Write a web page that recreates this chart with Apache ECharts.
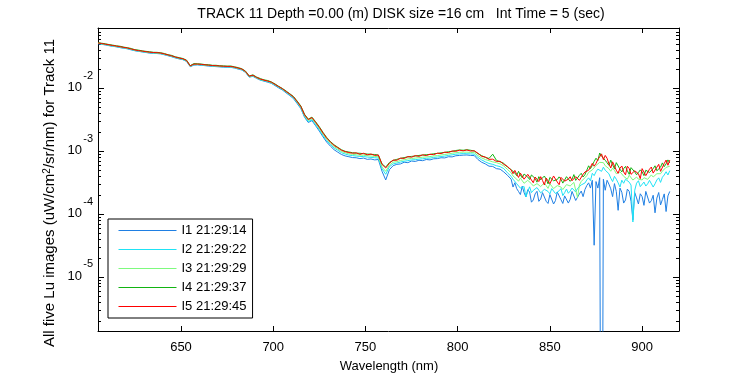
<!DOCTYPE html>
<html>
<head>
<meta charset="utf-8">
<title>Track 11 Lu</title>
<script src="https://cdn.jsdelivr.net/npm/echarts@6/dist/echarts.min.js"></script>
<style>
    html, body { margin: 0; padding: 0; background: #fff; }
    #luBox { width: 750px; height: 375px; }
</style>
</head>
<body>
<div id="luBox"></div>
<script>
//Lu spectra, track 11, five images

var wavelength = [
    605, 607, 609, 611, 613, 615, 617, 619, 621, 623,
    625, 627, 629, 631, 633, 635, 637, 639, 641, 643,
    645, 647, 649, 651, 653, 655, 657, 659, 661, 663,
    665, 667, 669, 671, 673, 675, 677, 679, 681, 683,
    685, 687, 689, 691, 693, 695, 697, 699, 701, 703,
    705, 707, 709, 711, 713, 715, 717, 719, 721, 723,
    725, 727, 729, 731, 733, 735, 737, 739, 741, 743,
    745, 747, 749, 751, 753, 755, 757, 759, 761, 763,
    765, 767, 769, 771, 773, 775, 777, 779, 781, 783,
    785, 787, 789, 791, 793, 795, 797, 799, 801, 803,
    805, 807, 809, 811, 813, 815, 817, 819, 821, 823,
    825, 827, 829, 830, 831, 832, 833, 834, 835, 836,
    837, 838, 839, 840, 841, 842, 843, 844, 845, 846,
    847, 848, 849, 850, 851, 852, 853, 854, 855, 856,
    857, 858, 859, 860, 861, 862, 863, 864, 865, 866,
    867, 868, 869, 870, 871, 872, 873, 874, 875, 876,
    877, 878, 879, 880, 881, 882, 883, 884, 885, 886,
    887, 888, 889, 890, 891, 892, 893, 894, 895, 896,
    897, 898, 899, 900, 901, 902, 903, 904, 905, 906,
    907, 908, 909, 910, 911, 912, 913, 914, 915
];

// I1 21:29:14
var lu1 = [
    5.15e-2, 5.05e-2, 4.94e-2, 4.80e-2, 4.70e-2, 4.60e-2, 4.47e-2, 4.38e-2, 4.28e-2, 4.12e-2,
    3.99e-2, 3.90e-2, 3.82e-2, 3.74e-2, 3.66e-2, 3.63e-2, 3.60e-2, 3.56e-2, 3.44e-2, 3.32e-2,
    3.20e-2, 3.06e-2, 2.96e-2, 2.88e-2, 2.70e-2, 2.22e-2, 2.36e-2, 2.38e-2, 2.34e-2, 2.31e-2,
    2.28e-2, 2.25e-2, 2.23e-2, 2.21e-2, 2.19e-2, 2.18e-2, 2.17e-2, 2.12e-2, 2.04e-2, 1.97e-2,
    1.80e-2, 1.52e-2, 1.56e-2, 1.45e-2, 1.36e-2, 1.31e-2, 1.26e-2, 1.21e-2, 1.11e-2, 1.02e-2,
    9.45e-3, 8.52e-3, 7.70e-3, 6.90e-3, 5.75e-3, 4.78e-3, 3.48e-3, 2.88e-3, 3.08e-3, 2.55e-3,
    2.10e-3, 1.70e-3, 1.40e-3, 1.21e-3, 1.06e-3, 9.70e-4, 8.90e-4, 8.45e-4, 8.20e-4, 7.95e-4,
    7.90e-4, 7.65e-4, 7.80e-4, 7.45e-4, 7.55e-4, 7.30e-4, 7.40e-4, 4.80e-4, 3.50e-4, 5.10e-4,
    5.90e-4, 6.20e-4, 6.30e-4, 6.70e-4, 6.60e-4, 7.00e-4, 6.90e-4, 7.20e-4, 7.10e-4, 7.40e-4,
    7.30e-4, 7.60e-4, 7.65e-4, 7.90e-4, 7.85e-4, 8.20e-4, 8.15e-4, 8.50e-4, 8.60e-4, 8.70e-4,
    8.75e-4, 8.60e-4, 8.55e-4, 7.40e-4, 6.70e-4, 6.30e-4, 5.80e-4, 5.75e-4, 5.30e-4, 5.20e-4,
    4.70e-4, 4.15e-4, 3.60e-4, 2.70e-4, 3.16e-4, 2.55e-4, 2.29e-4, 2.05e-4, 2.79e-4, 2.20e-4,
    1.88e-4, 2.45e-4, 2.25e-4, 1.55e-4, 1.68e-4, 2.10e-4, 2.31e-4, 1.60e-4, 1.74e-4, 2.20e-4,
    2.05e-4, 1.60e-4, 1.48e-4, 2.05e-4, 1.96e-4, 1.45e-4, 1.64e-4, 2.25e-4, 2.13e-4, 1.70e-4,
    1.48e-4, 1.95e-4, 2.01e-4, 1.50e-4, 1.72e-4, 2.30e-4, 2.20e-4, 1.65e-4, 1.76e-4, 2.10e-4,
    2.33e-4, 1.90e-4, 2.46e-4, 2.85e-4, 3.15e-4, 2.60e-4, 3.46e-4, 3.20e-5, 3.30e-4, 2.60e-4,
    3.80e-4, 1e-12, 3.60e-4, 2.40e-4, 3.46e-4, 3.00e-4, 2.53e-4, 1.90e-4, 3.06e-4, 2.30e-4,
    1.15e-4, 2.60e-4, 2.23e-4, 1.50e-4, 1.68e-4, 2.50e-4, 2.31e-4, 1.60e-4, 8.10e-5, 2.20e-4,
    1.81e-4, 1.45e-4, 2.11e-4, 1.90e-4, 1.38e-4, 2.30e-4, 2.15e-4, 1.50e-4, 1.64e-4, 2.00e-4,
    1.05e-4, 1.80e-4, 2.21e-4, 1.40e-4, 1.71e-4, 2.10e-4, 1.10e-4, 1.95e-4, 2.30e-4
];

// I2 21:29:22
var lu2 = [
    5.22e-2, 5.08e-2, 4.98e-2, 4.85e-2, 4.72e-2, 4.64e-2, 4.50e-2, 4.43e-2, 4.30e-2, 4.18e-2,
    4.02e-2, 3.94e-2, 3.85e-2, 3.78e-2, 3.70e-2, 3.67e-2, 3.62e-2, 3.60e-2, 3.47e-2, 3.36e-2,
    3.22e-2, 3.10e-2, 2.98e-2, 2.91e-2, 2.73e-2, 2.25e-2, 2.38e-2, 2.40e-2, 2.36e-2, 2.33e-2,
    2.30e-2, 2.27e-2, 2.25e-2, 2.23e-2, 2.21e-2, 2.20e-2, 2.19e-2, 2.14e-2, 2.06e-2, 1.99e-2,
    1.82e-2, 1.53e-2, 1.58e-2, 1.46e-2, 1.37e-2, 1.33e-2, 1.28e-2, 1.22e-2, 1.13e-2, 1.04e-2,
    9.60e-3, 8.68e-3, 7.85e-3, 7.05e-3, 5.90e-3, 4.90e-3, 3.58e-3, 2.98e-3, 3.18e-3, 2.65e-3,
    2.20e-3, 1.78e-3, 1.48e-3, 1.28e-3, 1.13e-3, 1.04e-3, 9.50e-4, 9.05e-4, 8.70e-4, 8.55e-4,
    8.40e-4, 8.30e-4, 8.25e-4, 8.10e-4, 8.00e-4, 7.90e-4, 7.80e-4, 5.30e-4, 4.30e-4, 5.70e-4,
    6.30e-4, 6.50e-4, 6.75e-4, 6.95e-4, 7.10e-4, 7.30e-4, 7.35e-4, 7.50e-4, 7.60e-4, 7.75e-4,
    7.80e-4, 8.00e-4, 8.10e-4, 8.25e-4, 8.40e-4, 8.60e-4, 8.80e-4, 9.00e-4, 9.10e-4, 9.20e-4,
    9.15e-4, 9.10e-4, 9.00e-4, 8.00e-4, 7.30e-4, 6.80e-4, 6.40e-4, 6.20e-4, 5.90e-4, 5.70e-4,
    5.30e-4, 4.55e-4, 4.00e-4, 3.60e-4, 3.39e-4, 3.05e-4, 2.84e-4, 2.60e-4, 2.47e-4, 2.75e-4,
    1.88e-4, 2.30e-4, 2.72e-4, 2.20e-4, 2.39e-4, 2.50e-4, 2.65e-4, 2.40e-4, 2.18e-4, 2.05e-4,
    2.48e-4, 2.60e-4, 2.30e-4, 2.10e-4, 2.55e-4, 2.40e-4, 2.13e-4, 2.00e-4, 2.35e-4, 2.55e-4,
    1.97e-4, 2.20e-4, 2.51e-4, 2.15e-4, 2.33e-4, 2.60e-4, 2.56e-4, 2.25e-4, 2.57e-4, 2.65e-4,
    2.92e-4, 2.75e-4, 3.13e-4, 3.50e-4, 3.78e-4, 3.40e-4, 4.47e-4, 4.10e-4, 4.73e-4, 5.20e-4,
    5.56e-4, 4.80e-4, 5.59e-4, 5.00e-4, 5.19e-4, 4.40e-4, 3.74e-4, 3.30e-4, 4.00e-4, 3.60e-4,
    3.15e-4, 2.70e-4, 3.47e-4, 3.10e-4, 3.59e-4, 3.70e-4, 3.23e-4, 2.90e-4, 7.50e-5, 2.40e-4,
    3.11e-4, 3.40e-4, 2.74e-4, 2.90e-4, 3.24e-4, 2.80e-4, 3.04e-4, 3.45e-4, 3.37e-4, 2.70e-4,
    3.04e-4, 3.50e-4, 3.78e-4, 3.20e-4, 3.87e-4, 4.20e-4, 4.73e-4, 4.20e-4, 4.92e-4
];

// I3 21:29:29
var lu3 = [
    5.26e-2, 5.14e-2, 5.03e-2, 4.90e-2, 4.79e-2, 4.68e-2, 4.58e-2, 4.47e-2, 4.37e-2, 4.21e-2,
    4.07e-2, 3.97e-2, 3.90e-2, 3.81e-2, 3.74e-2, 3.70e-2, 3.67e-2, 3.63e-2, 3.51e-2, 3.39e-2,
    3.27e-2, 3.13e-2, 3.02e-2, 2.94e-2, 2.76e-2, 2.27e-2, 2.42e-2, 2.43e-2, 2.40e-2, 2.36e-2,
    2.33e-2, 2.30e-2, 2.28e-2, 2.26e-2, 2.24e-2, 2.23e-2, 2.22e-2, 2.17e-2, 2.09e-2, 2.02e-2,
    1.84e-2, 1.55e-2, 1.60e-2, 1.48e-2, 1.39e-2, 1.35e-2, 1.30e-2, 1.24e-2, 1.15e-2, 1.06e-2,
    9.75e-3, 8.85e-3, 8.02e-3, 7.22e-3, 6.05e-3, 5.05e-3, 3.70e-3, 3.10e-3, 3.32e-3, 2.78e-3,
    2.31e-3, 1.87e-3, 1.56e-3, 1.35e-3, 1.19e-3, 1.09e-3, 9.95e-4, 9.50e-4, 9.15e-4, 8.95e-4,
    8.80e-4, 8.70e-4, 8.65e-4, 8.55e-4, 8.40e-4, 8.30e-4, 8.20e-4, 5.60e-4, 4.80e-4, 6.05e-4,
    6.70e-4, 6.85e-4, 7.15e-4, 7.35e-4, 7.55e-4, 7.70e-4, 7.80e-4, 7.95e-4, 8.05e-4, 8.15e-4,
    8.25e-4, 8.45e-4, 8.55e-4, 8.75e-4, 8.90e-4, 9.10e-4, 9.30e-4, 9.50e-4, 9.65e-4, 9.70e-4,
    9.70e-4, 9.60e-4, 9.50e-4, 8.55e-4, 7.85e-4, 7.40e-4, 7.10e-4, 6.80e-4, 6.60e-4, 6.30e-4,
    5.85e-4, 5.15e-4, 4.55e-4, 4.05e-4, 3.98e-4, 3.60e-4, 3.34e-4, 3.75e-4, 3.58e-4, 3.10e-4,
    2.93e-4, 3.45e-4, 3.34e-4, 3.05e-4, 2.81e-4, 2.80e-4, 3.06e-4, 3.20e-4, 2.75e-4, 2.60e-4,
    3.14e-4, 2.85e-4, 2.57e-4, 3.05e-4, 2.94e-4, 2.55e-4, 2.62e-4, 2.85e-4, 3.01e-4, 2.70e-4,
    2.46e-4, 2.30e-4, 2.95e-4, 3.05e-4, 2.81e-4, 2.70e-4, 3.20e-4, 2.40e-4, 1.84e-4, 2.90e-4,
    3.31e-4, 3.50e-4, 3.80e-4, 4.10e-4, 4.62e-4, 4.40e-4, 5.07e-4, 5.40e-4, 5.95e-4, 5.60e-4,
    6.67e-4, 7.00e-4, 6.60e-4, 5.90e-4, 6.09e-4, 5.30e-4, 4.82e-4, 5.40e-4, 5.00e-4, 4.40e-4,
    4.20e-4, 4.70e-4, 4.36e-4, 4.00e-4, 3.83e-4, 3.60e-4, 4.16e-4, 4.20e-4, 3.49e-4, 3.70e-4,
    3.89e-4, 3.60e-4, 3.38e-4, 3.50e-4, 3.80e-4, 3.90e-4, 3.58e-4, 3.75e-4, 4.21e-4, 3.90e-4,
    4.02e-4, 4.40e-4, 4.73e-4, 4.40e-4, 4.84e-4, 5.00e-4, 5.55e-4, 5.30e-4, 5.79e-4
];

// I4 21:29:37
var lu4 = [
    5.38e-2, 5.25e-2, 5.15e-2, 5.00e-2, 4.90e-2, 4.78e-2, 4.70e-2, 4.55e-2, 4.46e-2, 4.33e-2,
    4.15e-2, 4.08e-2, 3.97e-2, 3.90e-2, 3.84e-2, 3.77e-2, 3.76e-2, 3.70e-2, 3.60e-2, 3.45e-2,
    3.36e-2, 3.19e-2, 3.10e-2, 3.00e-2, 2.83e-2, 2.31e-2, 2.49e-2, 2.47e-2, 2.45e-2, 2.40e-2,
    2.39e-2, 2.34e-2, 2.34e-2, 2.30e-2, 2.29e-2, 2.27e-2, 2.28e-2, 2.21e-2, 2.15e-2, 2.06e-2,
    1.89e-2, 1.58e-2, 1.65e-2, 1.52e-2, 1.44e-2, 1.37e-2, 1.34e-2, 1.27e-2, 1.18e-2, 1.08e-2,
    1.00e-2, 9.10e-3, 8.25e-3, 7.45e-3, 6.30e-3, 5.25e-3, 3.88e-3, 3.25e-3, 3.50e-3, 2.95e-3,
    2.46e-3, 2.00e-3, 1.66e-3, 1.43e-3, 1.27e-3, 1.16e-3, 1.06e-3, 1.00e-3, 9.75e-4, 9.50e-4,
    9.35e-4, 9.30e-4, 9.15e-4, 9.05e-4, 8.95e-4, 8.90e-4, 8.70e-4, 6.30e-4, 5.60e-4, 6.65e-4,
    7.15e-4, 7.45e-4, 7.70e-4, 7.95e-4, 8.15e-4, 8.30e-4, 8.40e-4, 8.60e-4, 8.70e-4, 8.85e-4,
    8.90e-4, 9.15e-4, 9.25e-4, 9.45e-4, 9.60e-4, 9.85e-4, 1.00e-3, 1.03e-3, 1.05e-3, 1.04e-3,
    1.06e-3, 1.04e-3, 1.01e-3, 9.20e-4, 8.55e-4, 8.00e-4, 7.70e-4, 9.00e-4, 7.20e-4, 6.80e-4,
    6.45e-4, 5.60e-4, 5.10e-4, 4.90e-4, 4.52e-4, 4.10e-4, 4.80e-4, 4.20e-4, 3.78e-4, 4.35e-4,
    4.51e-4, 3.90e-4, 3.56e-4, 4.20e-4, 3.93e-4, 3.70e-4, 3.23e-4, 3.95e-4, 3.52e-4, 3.40e-4,
    4.04e-4, 3.60e-4, 3.03e-4, 3.85e-4, 3.76e-4, 3.40e-4, 3.27e-4, 3.55e-4, 3.92e-4, 3.60e-4,
    3.12e-4, 3.50e-4, 3.95e-4, 4.05e-4, 3.33e-4, 3.60e-4, 4.26e-4, 3.45e-4, 3.67e-4, 4.15e-4,
    4.47e-4, 3.90e-4, 4.25e-4, 5.00e-4, 5.88e-4, 5.30e-4, 5.96e-4, 6.90e-4, 7.77e-4, 7.10e-4,
    9.40e-4, 8.40e-4, 8.15e-4, 7.20e-4, 6.57e-4, 6.00e-4, 7.24e-4, 6.10e-4, 5.28e-4, 6.60e-4,
    6.20e-4, 5.20e-4, 4.70e-4, 5.30e-4, 5.75e-4, 4.90e-4, 4.30e-4, 5.50e-4, 5.14e-4, 4.70e-4,
    4.23e-4, 4.60e-4, 5.06e-4, 4.70e-4, 4.10e-4, 5.00e-4, 5.27e-4, 4.60e-4, 4.54e-4, 5.30e-4,
    5.88e-4, 4.90e-4, 4.99e-4, 5.60e-4, 6.54e-4, 5.70e-4, 6.31e-4, 7.30e-4, 6.52e-4
];

// I5 21:29:45
var lu5 = [
    5.30e-2, 5.19e-2, 5.07e-2, 4.95e-2, 4.83e-2, 4.73e-2, 4.62e-2, 4.51e-2, 4.41e-2, 4.25e-2,
    4.11e-2, 4.01e-2, 3.94e-2, 3.85e-2, 3.78e-2, 3.74e-2, 3.71e-2, 3.67e-2, 3.55e-2, 3.42e-2,
    3.30e-2, 3.16e-2, 3.05e-2, 2.97e-2, 2.79e-2, 2.29e-2, 2.44e-2, 2.45e-2, 2.42e-2, 2.38e-2,
    2.35e-2, 2.32e-2, 2.30e-2, 2.28e-2, 2.26e-2, 2.25e-2, 2.24e-2, 2.19e-2, 2.11e-2, 2.04e-2,
    1.86e-2, 1.57e-2, 1.62e-2, 1.50e-2, 1.41e-2, 1.36e-2, 1.31e-2, 1.26e-2, 1.16e-2, 1.07e-2,
    9.89e-3, 8.95e-3, 8.13e-3, 7.33e-3, 6.17e-3, 5.16e-3, 3.80e-3, 3.20e-3, 3.44e-3, 2.88e-3,
    2.40e-3, 1.95e-3, 1.62e-3, 1.40e-3, 1.24e-3, 1.14e-3, 1.04e-3, 9.89e-4, 9.55e-4, 9.33e-4,
    9.45e-4, 8.95e-4, 9.30e-4, 8.80e-4, 9.05e-4, 8.60e-4, 8.75e-4, 6.17e-4, 5.43e-4, 6.46e-4,
    7.25e-4, 7.20e-4, 7.80e-4, 7.70e-4, 8.25e-4, 8.05e-4, 8.55e-4, 8.30e-4, 8.80e-4, 8.55e-4,
    9.00e-4, 8.85e-4, 9.35e-4, 9.20e-4, 9.70e-4, 9.55e-4, 1.01e-3, 1.00e-3, 1.04e-3, 1.02e-3,
    1.05e-3, 1.01e-3, 1.02e-3, 9.30e-4, 8.30e-4, 8.10e-4, 7.45e-4, 7.50e-4, 6.90e-4, 6.95e-4,
    6.20e-4, 5.75e-4, 5.05e-4, 4.40e-4, 4.97e-4, 4.30e-4, 3.84e-4, 4.50e-4, 4.46e-4, 3.60e-4,
    3.57e-4, 4.30e-4, 4.17e-4, 3.50e-4, 3.16e-4, 3.90e-4, 3.67e-4, 3.30e-4, 3.95e-4, 3.45e-4,
    2.91e-4, 3.75e-4, 3.62e-4, 3.05e-4, 3.11e-4, 4.05e-4, 3.92e-4, 3.25e-4, 2.94e-4, 3.85e-4,
    3.67e-4, 3.35e-4, 3.12e-4, 3.60e-4, 3.94e-4, 3.40e-4, 3.20e-4, 3.95e-4, 4.04e-4, 3.45e-4,
    3.70e-4, 4.30e-4, 4.69e-4, 4.40e-4, 4.99e-4, 5.60e-4, 6.44e-4, 5.80e-4, 6.42e-4, 7.40e-4,
    8.15e-4, 9.10e-4, 7.37e-4, 8.60e-4, 7.75e-4, 6.30e-4, 5.43e-4, 6.80e-4, 6.39e-4, 5.00e-4,
    4.46e-4, 5.40e-4, 5.84e-4, 4.70e-4, 4.22e-4, 5.80e-4, 5.31e-4, 4.30e-4, 4.02e-4, 4.90e-4,
    5.18e-4, 4.40e-4, 3.67e-4, 5.30e-4, 4.97e-4, 4.10e-4, 4.02e-4, 5.20e-4, 5.62e-4, 4.50e-4,
    4.31e-4, 5.60e-4, 6.20e-4, 4.80e-4, 5.12e-4, 6.40e-4, 7.26e-4, 6.00e-4, 7.24e-4
];

var seriesNames = ['I1 21:29:14', 'I2 21:29:22', 'I3 21:29:29', 'I4 21:29:37', 'I5 21:29:45'];
var seriesColors = ['#1f7fe3', '#1fe3f5', '#7efa7e', '#12b412', '#ff0000'];

var fontName = '"Liberation Sans", Arial, Helvetica, sans-serif';
var xMin = 605, xMax = 920;
var yMin = 1.38e-6, yMax = 0.0918;

//10^n labels, nothing for the range ends
function powLabel(value) {
    var lg = Math.log(value) / Math.LN10;
    var e = Math.round(lg);
    if (Math.abs(lg - e) > 1e-6) {
        return '';
    }
    return '{e|' + e + '}\n{b|10}';
}

function $each(list, fn) {
    for (var i = 0; i < list.length; i++) {
        fn(i, list[i]);
    }
}

function loadLu() {
    var luChart = echarts.init(document.getElementById('luBox'));
    var allLu = [lu1, lu2, lu3, lu4, lu5];
    var seriesList = [];
    $each(allLu, function (i, item) {
        var pts = [];
        for (var k = 0; k < wavelength.length; k++) {
            pts.push([wavelength[k], item[k]]);
        }
        seriesList.push({
            name: seriesNames[i],
            type: 'line',
            xAxisIndex: 0,
            yAxisIndex: 0,
            symbol: 'none',
            showSymbol: false,
            clip: true,
            animation: false,
            lineStyle: { color: seriesColors[i], width: 1 },
            itemStyle: { color: seriesColors[i] },
            data: pts
        });
    });

    var blackLine = { lineStyle: { color: '#000', width: 1 } };

    var option_lu = {
        backgroundColor: '#fff',
        animation: false,
        textStyle: { fontFamily: fontName },
        grid: {
            left: 98,
            right: 71,
            top: 28,
            bottom: 44
        },
        legend: {
            orient: 'vertical',
            left: 108,
            top: 219,
            itemWidth: 58,
            itemHeight: 14,
            itemGap: 6,
            padding: [5, 6, 5, 10],
            borderColor: '#000',
            borderWidth: 1,
            borderRadius: 0,
            backgroundColor: '#fff',
            itemStyle: { opacity: 0 },
            lineStyle: { width: 1 },
            textStyle: { color: '#000', fontSize: 13, fontFamily: fontName },
            data: seriesNames
        },
        xAxis: [
            {
                type: 'value',
                min: xMin,
                max: xMax,
                splitNumber: 6,
                axisLine: blackLine,
                axisTick: { inside: true, length: 5, lineStyle: { color: '#000' } },
                splitLine: { show: false },
                axisLabel: {
                    color: '#000',
                    fontSize: 13,
                    fontFamily: fontName,
                    margin: 10,
                    showMinLabel: false,
                    showMaxLabel: false,
                    formatter: function (v) { return v % 50 === 0 ? String(v) : ''; }
                }
            },
            {
                type: 'value',
                position: 'top',
                min: xMin,
                max: xMax,
                splitNumber: 6,
                axisLine: blackLine,
                axisTick: { inside: true, length: 5, lineStyle: { color: '#000' } },
                splitLine: { show: false },
                axisLabel: { show: false }
            }
        ],
        yAxis: [
            {
                type: 'log',
                logBase: 10,
                min: yMin,
                max: yMax,
                axisLine: blackLine,
                axisTick: { inside: true, length: 6, lineStyle: { color: '#000' } },
                minorTick: { show: true, splitNumber: 9, length: 3, lineStyle: { color: '#000' } },
                splitLine: { show: false },
                minorSplitLine: { show: false },
                axisLabel: {
                    color: '#000',
                    margin: 5,
                    align: 'right',
                    padding: [0, 0, 12, 0],
                    showMinLabel: false,
                    showMaxLabel: false,
                    formatter: powLabel,
                    rich: {
                        e: { fontSize: 11, lineHeight: 10, fontFamily: fontName, color: '#000', align: 'right' },
                        b: { fontSize: 13, lineHeight: 13, fontFamily: fontName, color: '#000', align: 'right', padding: [0, 11, 0, 0] }
                    }
                }
            },
            {
                type: 'log',
                logBase: 10,
                position: 'right',
                min: yMin,
                max: yMax,
                axisLine: blackLine,
                axisTick: { inside: true, length: 6, lineStyle: { color: '#000' } },
                minorTick: { show: true, splitNumber: 9, length: 3, lineStyle: { color: '#000' } },
                splitLine: { show: false },
                minorSplitLine: { show: false },
                axisLabel: { show: false }
            }
        ],
        graphic: [
            {
                type: 'text',
                x: 401,
                y: 14,
                style: {
                    text: 'TRACK 11 Depth =0.00 (m) DISK size =16 cm   Int Time = 5 (sec)',
                    fontSize: 14,
                    fontFamily: fontName,
                    fill: '#000',
                    align: 'center',
                    verticalAlign: 'middle'
                }
            },
            {
                type: 'text',
                x: 389,
                y: 366,
                style: {
                    text: 'Wavelength (nm)',
                    fontSize: 13,
                    fontFamily: fontName,
                    fill: '#000',
                    align: 'center',
                    verticalAlign: 'middle'
                }
            },
            {
                type: 'text',
                x: 50,
                y: 193,
                rotation: Math.PI / 2,
                style: {
                    text: 'All five Lu images (uW/cm{sup|2}/sr/nm) for Track 11',
                    fontSize: 15,
                    lineHeight: 16,
                    fontFamily: fontName,
                    fill: '#000',
                    align: 'center',
                    verticalAlign: 'middle',
                    rich: {
                        sup: { fontSize: 10, lineHeight: 16, verticalAlign: 'top', fontFamily: fontName, fill: '#000' }
                    }
                }
            }
        ],
        series: seriesList
    };

    luChart.setOption(option_lu);
}

loadLu();
</script>
</body>
</html>
